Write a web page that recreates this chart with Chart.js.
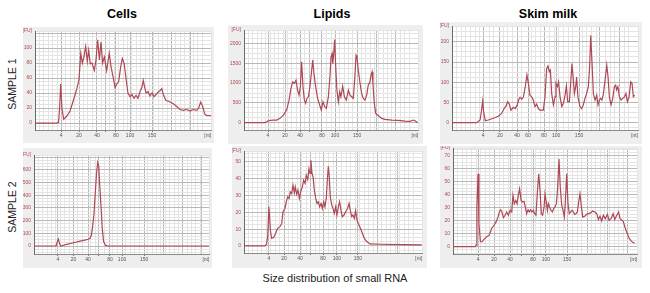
<!DOCTYPE html>
<html><head><meta charset="utf-8">
<script src="https://cdn.jsdelivr.net/npm/chart.js@4/dist/chart.umd.min.js"></script>
<style>
html,body{margin:0;padding:0;background:#fff;width:650px;height:293px;overflow:hidden;font-family:'Liberation Sans',Arial,sans-serif;}
.t{position:absolute;font-weight:bold;font-size:12.5px;transform:translate(-50%,-50%);white-space:nowrap;color:#000}
.s{position:absolute;font-size:10.5px;transform:translate(-50%,-50%) rotate(-90deg);white-space:nowrap;color:#222}
.c{position:absolute;font-size:11px;transform:translate(-50%,-50%);white-space:nowrap;color:#222}
canvas{position:absolute}
</style></head><body>
<div class="t" style="left:122px;top:14px">Cells</div>
<div class="t" style="left:332px;top:14px">Lipids</div>
<div class="t" style="left:548px;top:14px">Skim milk</div>
<div class="s" style="left:12px;top:84px">SAMPLE 1</div>
<div class="s" style="left:12px;top:207px">SAMPLE 2</div>
<div class="c" style="left:335px;top:278px">Size distribution of small RNA</div>
<script>
// ---- nucleotide tick labels (x axis) ----
const ntLabelsA = ['4','20','40','','80','100','150'];
const ntLabelsB = ['4','20','40','60','80','100','150'];

// ---- Cells, sample 1 ----
const cells1X = [0,12.3,13.4,14.0,14.6,15.3,16.3,18.0,19.9,21.8,23.7,25.0,26.0,26.9,27.8,28.8,29.7,30.5,31.4,32.4,33.7,34.7,35.6,36.6,37.5,38.4,39.4,40.7,42.2,43.2,44.5,45.5,46.4,47.5,48.7,49.6,50.6,51.7,52.8,54.0,55.1,56.3,57.4,58.5,59.7,60.8,61.5,62.3,63.1,64.2,65.3,66.5,67.6,68.8,69.9,71.0,72.0,72.9,74.4,75.9,77.5,79.0,80.5,82.4,84.3,86.2,88.1,89.9,91.9,93.0,94.1,95.3,96.4,97.5,99.0,100];
const cells1Y = [0,0,1,20,52,20,5,9,16,30,45,58,93,80,88,102,82,97,79,80,70,85,111,84,108,80,88,70,93,75,60,47,52,55,75,86,80,60,40,35,38,33,37,33,42,48,57,48,40,42,36,40,35,38,41,43,46,38,30,29,27,25,22,18,17,18,16,18,17,20,28,22,12,10,10,10];
const cells1Ticks = [14.8,25,35.2,40,46,54,66.5];
const cells1YLabels = [0,20,40,60,80,100];

// ---- Lipids, sample 1 ----
const lipids1X = [0,12.1,14.0,16.3,18.8,20.7,22.6,24.5,25.9,27.0,28.0,28.9,29.9,30.8,31.6,32.4,33.1,33.9,34.7,35.4,36.2,37.0,37.9,38.9,39.5,40.2,41.2,42.3,43.5,44.4,45.4,46.4,47.3,48.5,49.4,50.0,50.6,51.0,51.5,52.1,52.7,53.4,54.2,55.0,55.7,56.7,57.7,58.8,60.0,60.9,61.9,62.8,63.6,64.4,64.9,65.7,66.7,67.6,68.6,69.5,70.5,71.4,72.4,73.0,73.6,74.1,74.9,75.7,76.8,78.0,79.1,81.0,84.9,88.7,92.5,95.4,97.3,98.3,99.8];
const lipids1Y = [0,0,50,67,67,110,190,320,570,865,1030,990,1075,820,700,907,1537,907,570,490,613,655,907,1327,1580,1243,907,613,445,320,530,403,361,655,1160,1663,1747,1495,1705,2100,1411,823,530,781,655,924,655,571,823,697,655,613,1075,1705,1663,1327,991,739,613,571,697,949,1033,1201,1285,991,487,235,193,151,109,84,67,59,42,34,67,50,0];
const lipids1Ticks = [13.8,23.6,32.2,37.4,44.8,52.3,65];
const lipids1YLabels = [0,500,1000,1500,2000];

// ---- Skim milk, sample 1 ----
const skim1X = [0,13.3,15.1,15.9,16.5,17.0,17.9,19.5,22.2,24.9,26.7,28.0,29.0,29.9,30.8,31.7,33.0,34.0,35.1,35.8,36.6,37.5,38.4,39.4,40.3,41.2,41.9,42.8,43.7,44.6,45.5,46.4,47.3,49.1,50.0,50.9,51.6,52.3,52.9,53.6,54.5,55.4,55.9,56.6,57.3,58.1,59.0,59.9,60.8,61.5,62.2,63.1,63.8,64.5,65.2,65.8,66.5,67.0,67.7,68.8,69.7,70.6,71.5,72.4,73.3,74.0,74.6,75.3,76.0,76.9,77.8,78.5,79.2,79.9,80.6,81.4,82.3,83.2,83.9,84.6,85.5,86.4,87.3,88.0,88.5,89.2,90.0,90.9,91.8,92.7,93.5,94.3,95.2,96.1,96.8,97.5,98.2];
const skim1Y = [0,0,6.6,31,53,27,5,6.6,11,16,23,35,41,52,46,31,38,35,44,56,63,58,64,89,118,93,68,64,56,40,46,35,31,31,64,134,140,126,130,72,44,64,97,89,101,64,40,48,68,91,52,52,97,146,109,72,89,113,64,40,35,44,60,72,89,138,216,146,72,56,68,44,56,60,56,72,105,142,113,64,44,60,89,93,81,89,64,56,60,64,72,52,64,101,97,64,68];
const skim1Ticks = [16.7,25.8,35,40.9,49.5,56,68.3];
const skim1YLabels = [0,50,100,150,200];

// ---- Cells, sample 2 ----
const cells2X = [0,12.6,13.3,13.9,14.5,15.2,18.7,22.5,26.3,29.1,31.0,32.0,32.8,33.5,34.3,35.0,35.8,36.4,37.0,37.5,38.3,39.0,39.8,40.8,42.5,100];
const cells2Y = [0,0,34,55,26,0,13,26,39,47,53,60,87,153,258,416,586,660,631,494,310,139,34,5,0,0];
const cells2Ticks = [13.7,22.6,30.9,36.6,43.4,50.3,62.9];
const cells2YLabels = [0,100,200,300,400,500,600];

// ---- Lipids, sample 2 ----
const lipids2X = [0,11.8,12.7,13.3,14.0,14.8,15.5,16.7,17.8,18.9,20.2,21.2,21.9,23.0,24.0,24.5,25.3,26.0,26.8,27.5,28.3,28.8,29.6,30.3,31.1,31.8,32.8,33.5,34.3,35.0,35.8,36.5,37.1,37.6,38.2,38.8,39.5,40.3,41.0,41.8,42.5,43.3,44.0,44.8,45.5,46.3,46.8,47.4,47.9,48.5,49.3,50.0,50.7,51.5,52.2,53.0,53.7,54.5,55.2,56.2,57.1,58.2,59.0,59.7,60.5,61.2,62.0,62.7,63.5,64.2,65.4,66.5,67.6,68.9,70.8,77.3,88.6,99.8];
const lipids2Y = [0,0,1.2,5.5,23.3,9.5,4.5,5.1,7.5,10.5,11.5,13.4,20.4,22.3,27.3,29.2,28.3,32.2,31.2,36.2,31.6,35.2,30.8,33.2,28.3,32.2,35.2,39.1,37.2,42.1,39.5,46,43.1,51,43.1,41.1,33.2,28.3,25.3,26.3,23.3,25.3,22.3,26.3,23.3,29.2,39.1,47.4,41.1,29.2,24.3,22.3,19.4,23.3,18.4,23.3,26.3,21.3,17.4,18.4,20.4,22.3,25.3,21.3,17.4,18.4,16.4,21.0,15.4,13.4,10.5,7.5,4.5,2.6,1.2,1.0,0.8,0.6];
const lipids2Ticks = [14,22.5,31.5,37.6,44.4,52.2,64];
const lipids2YLabels = [0,10,20,30,40,50];

// ---- Skim milk, sample 2 ----
const skim2X = [0,12.0,12.5,13.0,13.6,14.1,14.9,15.8,16.8,18.3,19.7,21.0,22.3,23.4,24.5,25.2,25.9,26.6,27.4,28.3,29.2,30.1,31.0,31.9,32.6,33.3,34.1,34.8,35.5,36.2,37.0,37.9,38.6,39.3,40.0,40.8,41.5,42.2,42.9,43.7,44.4,45.1,45.8,46.6,47.3,48.0,48.7,49.5,50.0,50.7,51.3,51.8,52.5,53.3,54.0,54.7,55.4,56.2,56.9,57.6,58.3,59.1,59.8,60.5,61.0,61.8,62.5,63.2,64.0,64.7,65.4,66.1,66.8,67.6,68.3,69.0,69.7,70.5,71.6,72.6,73.7,74.8,75.9,77.0,78.1,79.0,79.9,80.8,81.7,82.8,83.9,84.8,85.9,87.0,87.9,89.0,90.0,90.8,91.8,92.6,93.7,94.7,95.8,96.9,98.0,98.7];
const skim2Y = [0,0,1.3,30.5,56,17.8,3.8,3.8,5.6,7.6,8.9,14,16.5,19.1,22.9,26.7,28.5,26.7,22.4,24.2,26.7,24.2,28,26.7,39.4,33.1,35.6,33.1,39.4,44.5,35.6,34.4,34.9,30.5,25.4,28.5,26.7,28.5,26.7,28,25.4,24.2,40.7,56,43.3,25.4,24.2,30.5,40.7,34.4,28,33.1,30.5,28,26.7,29.3,30.5,33.1,45.8,67.4,45.8,31.8,28,22.9,33.1,56,33.1,25.4,26.7,28,26.7,24.9,25.4,26.7,34.4,40.7,31.8,22.9,23.4,24.9,25.4,26,27.5,26.7,25.4,20.9,23.4,19.8,24.2,21.6,24.9,20.4,21.6,25.4,20.9,24.2,26.7,21.6,20.4,19.1,14,10.2,6.4,4.3,3.1,2.8];
const skim2Ticks = [13.6,22.3,31,37,43.5,50.5,62];
const skim2YLabels = [0,10,20,30,40,50,60,70];

// ---- layout (box and plot rectangles: left, top, right, bottom) ----
const FONT = "'Liberation Sans', Arial, sans-serif";
const LINE = '#ad4854';
const bgPlugin = {
  id: 'bg',
  beforeDraw(chart) {
    const c = chart.ctx, a = chart.chartArea;
    c.save();
    c.fillStyle = '#eeeeee';
    c.fillRect(0, 0, chart.width, chart.height);
    c.fillStyle = '#ffffff';
    c.fillRect(a.left, a.top, a.right - a.left, a.bottom - a.top);
    c.restore();
  }
};
const near = (a, b) => Math.abs(a - b) < 1e-6;

function panel(box, plot, xs, ys, tickPos, tickLabels, yMin, yMax, yMajor, yLabels) {
  const cv = document.createElement('canvas');
  cv.width = box[2] - box[0];
  cv.height = box[3] - box[1];
  cv.style.left = box[0] + 'px';
  cv.style.top = box[1] + 'px';
  cv.style.width = cv.width + 'px';
  cv.style.height = cv.height + 'px';
  document.body.appendChild(cv);

  const NT = 98.2;
  const xMajors = tickPos.slice();
  const last = tickPos[tickPos.length - 1];
  for (let v = last + 11; v < 97; v += 11) xMajors.push(v);
  const xTicks = xMajors.slice();
  for (let v = 0; v <= 100.001; v += 2.5) {
    if (!xMajors.some(m => Math.abs(m - v) < 0.9) && Math.abs(v - NT) > 0.9) xTicks.push(v);
  }
  xTicks.push(NT);
  xTicks.sort((a, b) => a - b);

  const yMinor = yMajor / 4;
  const yTicks = [];
  for (let v = Math.ceil(yMin / yMinor) * yMinor; v < yMax - yMinor * 0.3; v += yMinor) yTicks.push(Math.round(v * 1000) / 1000);
  yTicks.push(yMax);
  const isMajorY = v => near(v / yMajor, Math.round(v / yMajor));

  new Chart(cv, {
    type: 'line',
    data: { datasets: [{ data: xs.map((x, i) => ({ x: x, y: ys[i] })), borderColor: LINE, borderWidth: 1.2, pointRadius: 0, tension: 0, fill: false }] },
    options: {
      responsive: false, animation: false, events: [],
      layout: { padding: { top: plot[1] - box[1], right: box[2] - plot[2], left: 0, bottom: 0 } },
      plugins: { legend: { display: false }, tooltip: { enabled: false } },
      scales: {
        x: {
          type: 'linear', min: 0, max: 100,
          afterBuildTicks: s => { s.ticks = xTicks.map(v => ({ value: v })); },
          afterFit: s => { s.height = box[3] - plot[3]; s.paddingLeft = 0; s.paddingRight = 0; },
          ticks: {
            autoSkip: false, maxRotation: 0, minRotation: 0, padding: 1,
            font: { size: 5, family: FONT }, color: '#555',
            callback: v => {
              if (near(v, NT)) return '[nt]';
              const i = tickPos.findIndex(p => near(p, v));
              return i >= 0 ? tickLabels[i] : '';
            }
          },
          grid: {
            color: ctx => {
              const v = ctx.tick ? ctx.tick.value : null;
              if (v === null) return '#e4e4e4';
              if (near(v, NT)) return 'rgba(0,0,0,0)';
              return xMajors.some(m => near(m, v)) ? '#b8b8b8' : '#e4e4e4';
            },
            tickColor: ctx => {
              const v = ctx.tick ? ctx.tick.value : null;
              return (v !== null && tickPos.some(m => near(m, v))) ? '#777' : 'rgba(0,0,0,0)';
            },
            tickLength: 2, lineWidth: 1
          },
          border: { color: '#8a8a8a', width: 1 }
        },
        y: {
          type: 'linear', min: yMin, max: yMax,
          afterBuildTicks: s => { s.ticks = yTicks.map(v => ({ value: v })); },
          afterFit: s => { s.width = plot[0] - box[0]; s.paddingTop = 0; s.paddingBottom = 0; },
          ticks: {
            autoSkip: false, padding: 1,
            font: { size: 5, family: FONT }, color: '#b0464e',
            callback: v => {
              if (near(v, yMax)) return '[FU]';
              return yLabels.some(l => near(l, v)) ? String(v) : '';
            }
          },
          grid: {
            color: ctx => {
              const v = ctx.tick ? ctx.tick.value : null;
              if (v === null || near(v, yMax)) return '#e4e4e4';
              return isMajorY(v) ? '#b8b8b8' : '#e4e4e4';
            },
            tickColor: 'rgba(0,0,0,0)', tickLength: 2, lineWidth: 1
          },
          border: { color: '#6a6a6a', width: 1 }
        }
      }
    },
    plugins: [bgPlugin]
  });
}

panel([23, 27, 214, 143], [35, 31, 211, 130], cells1X, cells1Y, cells1Ticks, ntLabelsA, -9.3, 122.7, 20, cells1YLabels);
panel([228, 25, 423, 144], [244, 30, 418, 130], lipids1X, lipids1Y, lipids1Ticks, ntLabelsA, -184, 2341, 500, lipids1YLabels);
panel([440, 22, 642, 144], [452, 26, 638, 130], skim1X, skim1Y, skim1Ticks, ntLabelsB, -18, 239, 50, skim1YLabels);
panel([23, 148, 212, 268], [34, 155, 209, 254], cells2X, cells2Y, cells2Ticks, ntLabelsA, -63, 718, 100, cells2YLabels);
panel([232, 146, 427, 268], [244, 151, 422, 253], lipids2X, lipids2Y, lipids2Ticks, ntLabelsA, -4.2, 56.5, 10, lipids2YLabels);
panel([440, 146, 642, 268], [453, 148, 637, 254], skim2X, skim2Y, skim2Ticks, ntLabelsA, -5.6, 75.9, 10, skim2YLabels);
</script>
</body></html>
